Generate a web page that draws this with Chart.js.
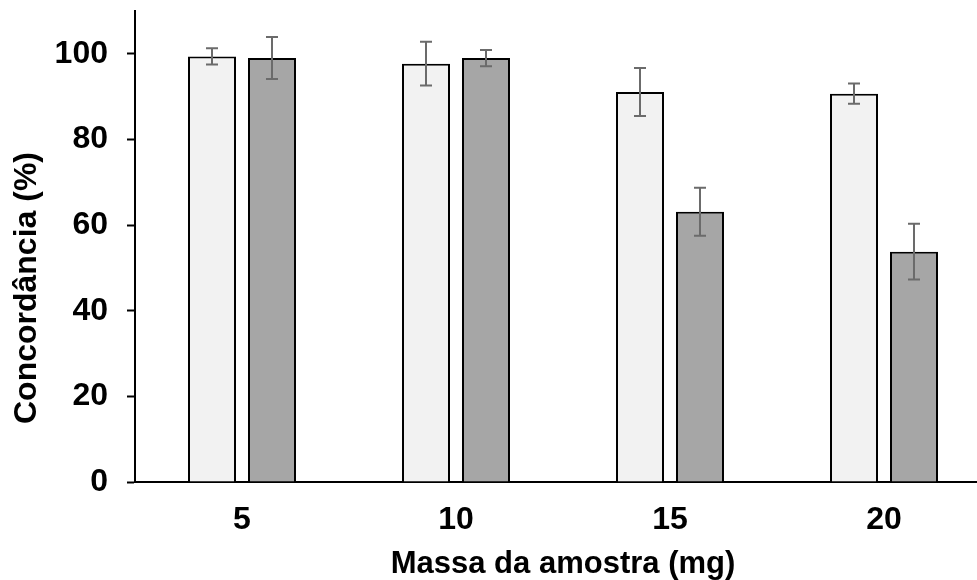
<!DOCTYPE html>
<html>
<head>
<meta charset="utf-8">
<script src="https://cdn.jsdelivr.net/npm/chart.js@4.4.1/dist/chart.umd.min.js"></script>
<style>
  html, body { margin: 0; padding: 0; background: #fff; overflow: hidden; }
  #wrap { width: 1000px; height: 580px; }
</style>
</head>
<body>
<div id="wrap"><canvas id="c" width="1000" height="580"></canvas></div>
<script>
// Sample mass (mg) on the x axis
const massas = ['5', '10', '15', '20'];
// Agreement (%) for the two series, with their standard deviations
const serieA = [99.4, 97.7, 91.1, 90.7];
const erroA  = [1.9, 5.1, 5.6, 2.35];
const serieB = [99.0, 99.0, 63.1, 53.8];
const erroB  = [4.9, 1.9, 5.6, 6.5];
const yTicks = [0, 20, 40, 60, 80, 100];

const FONT = "'Liberation Sans', Arial, sans-serif";

// Draws ± error bars on top of each bar using the chart's own scales
const errorBars = {
  id: 'errorBars',
  afterDatasetsDraw(chart) {
    const { ctx } = chart;
    const y = chart.scales.y;
    chart.data.datasets.forEach((ds, di) => {
      const meta = chart.getDatasetMeta(di);
      meta.data.forEach((bar, i) => {
        const v = ds.data[i], e = ds.errors[i];
        const yt = y.getPixelForValue(v + e);
        const yb = y.getPixelForValue(v - e);
        const x = bar.x;
        ctx.save();
        ctx.strokeStyle = '#6b6b6b';
        ctx.lineWidth = 2;
        ctx.beginPath();
        ctx.moveTo(x, yt); ctx.lineTo(x, yb);
        ctx.moveTo(x - 6, yt); ctx.lineTo(x + 6, yt);
        ctx.moveTo(x - 6, yb); ctx.lineTo(x + 6, yb);
        ctx.stroke();
        ctx.restore();
      });
    });
  }
};

// Vertical axis title, placed beside the value axis
const yTitle = {
  id: 'yTitle',
  afterDraw(chart) {
    const { ctx } = chart;
    ctx.save();
    ctx.translate(27, 288);
    ctx.rotate(-Math.PI / 2);
    ctx.font = 'bold 32px ' + FONT;
    ctx.fillStyle = '#000';
    ctx.textAlign = 'center';
    ctx.textBaseline = 'middle';
    ctx.fillText('Concordância (%)', 0, 0);
    ctx.restore();
  }
};

new Chart(document.getElementById('c'), {
  type: 'bar',
  data: {
    labels: massas,
    datasets: [
      { label: 'Série 1', data: serieA, errors: erroA,
        backgroundColor: '#f2f2f2', borderColor: '#000', borderWidth: 2 },
      { label: 'Série 2', data: serieB, errors: erroB,
        backgroundColor: '#a6a6a6', borderColor: '#000', borderWidth: 2 }
    ]
  },
  options: {
    responsive: false,
    animation: false,
    layout: { padding: { top: 11, right: 9, left: 0, bottom: 0 } },
    datasets: { bar: { barPercentage: 0.8, categoryPercentage: 0.5607 } },
    plugins: { legend: { display: false }, tooltip: { enabled: false } },
    scales: {
      x: {
        grid: { display: false, drawTicks: false },
        border: { display: true, color: '#000', width: 2 },
        ticks: { color: '#000', padding: 22,
                 font: { family: FONT, size: 32, weight: 'bold', lineHeight: 1 } },
        title: { display: true, text: 'Massa da amostra (mg)', color: '#000',
                 padding: { top: 0, bottom: 0 },
                 font: { family: FONT, size: 31, weight: 'bold', lineHeight: 1 } },
        afterFit(scale) {
          scale.height = 98;
          scale.paddingLeft = 0; scale.paddingRight = 0;
        }
      },
      y: {
        min: 0, max: 110,
        afterBuildTicks(axis) {
          axis.ticks = yTicks.map(v => ({ value: v }));
        },
        grid: { display: true, drawOnChartArea: false, drawTicks: true,
                tickLength: 8, tickColor: '#000', tickWidth: 2 },
        border: { display: true, color: '#000', width: 2 },
        ticks: { color: '#000', padding: 19,
                 font: { family: FONT, size: 32, weight: 'bold', lineHeight: 1 } },
        afterFit(scale) {
          scale.width = 135;
          scale.paddingTop = 0; scale.paddingBottom = 0;
        }
      }
    }
  },
  plugins: [errorBars, yTitle]
});
</script>
</body>
</html>
